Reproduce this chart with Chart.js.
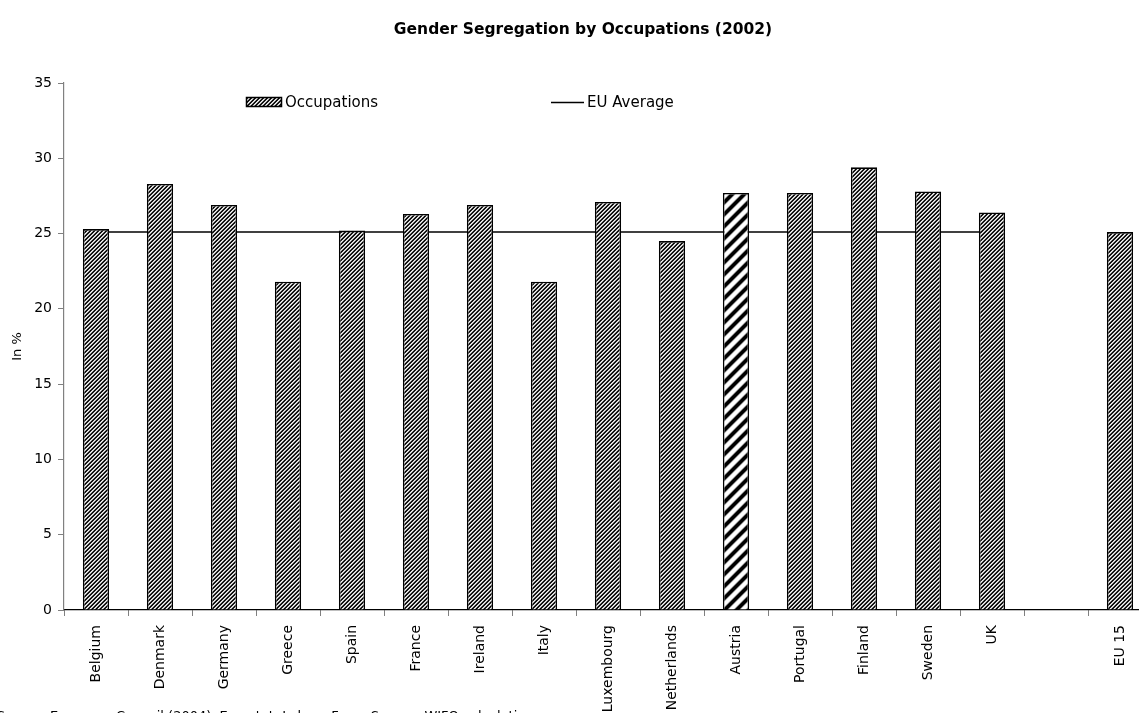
<!DOCTYPE html>
<html>
<head>
<meta charset="utf-8">
<script src="https://cdn.jsdelivr.net/npm/chart.js@4.4.1/dist/chart.umd.min.js"></script>
<style>
  html, body { margin: 0; padding: 0; background: #fff; overflow: hidden; }
  #wrap { width: 1170px; height: 713px; }
</style>
</head>
<body>
<div id="wrap"><canvas id="grafico" width="1170" height="713"></canvas></div>
<script>
// --- DADOS ---
const paises = ['Belgium', 'Denmark', 'Germany', 'Greece', 'Spain', 'France', 'Ireland', 'Italy',
  'Luxembourg', 'Netherlands', 'Austria', 'Portugal', 'Finland', 'Sweden', 'UK', '', 'EU 15'];
const ocupacoes = [25.3, 28.3, 26.9, 21.8, 25.2, 26.3, 26.9, 21.8, 27.1, 24.5, 27.7, 27.7, 29.4, 27.8, 26.4, null, 25.1];
const mediaUE = [25.1, 25.1, 25.1, 25.1, 25.1, 25.1, 25.1, 25.1, 25.1, 25.1, 25.1, 25.1, 25.1, 25.1, 25.1, null, null];
const yTicks = [0, 5, 10, 15, 20, 25, 30, 35];

const titulo = 'Gender Segregation by Occupations (2002)';
const fonte = 'Source: European Council (2004), Eurostat, Labour Force Survey; WIFO calculations.';
const FONT = '"DejaVu Sans", sans-serif';

// --- PADRÕES (hachuras diagonais) ---
function criarPadrao(tons) {
  const n = tons.length;
  const c = document.createElement('canvas');
  c.width = n; c.height = n;
  const g = c.getContext('2d');
  const img = g.createImageData(n, n);
  for (let y = 0; y < n; y++) {
    for (let x = 0; x < n; x++) {
      const v = tons[(x + y) % n];
      const i = (y * n + x) * 4;
      img.data[i] = v; img.data[i + 1] = v; img.data[i + 2] = v; img.data[i + 3] = 255;
    }
  }
  g.putImageData(img, 0, 0);
  return g.createPattern(c, 'repeat');
}

const padraoFino = criarPadrao([0, 45, 245, 175]);
const padraoLargo = criarPadrao([0, 0, 0, 0, 90, 215, 255, 255, 255, 255, 215, 90]);
const coresBarras = paises.map(p => p === 'Austria' ? padraoLargo : padraoFino);

// legenda desenhada à mão (posições como no original)
const legendaPlugin = {
  id: 'legendaManual',
  afterDraw(chart) {
    const ctx = chart.ctx;
    const ds = chart.data.datasets;
    ctx.save();
    ctx.font = '15px ' + FONT;
    ctx.textBaseline = 'middle';
    // Occupations
    ctx.fillStyle = padraoFino;
    ctx.fillRect(246, 97, 35, 9);
    ctx.strokeStyle = '#000';
    ctx.lineWidth = 1.5;
    ctx.strokeRect(246.5, 97.5, 35, 9);
    ctx.fillStyle = '#000';
    ctx.fillText(ds[0].label, 285, 103);
    // EU Average
    ctx.beginPath();
    ctx.moveTo(551, 102.5);
    ctx.lineTo(584, 102.5);
    ctx.lineWidth = 1.5;
    ctx.stroke();
    ctx.fillText(ds[1].label, 587, 103);

    // fonte (cortada à esquerda e em baixo, como na imagem)
    ctx.font = '13px ' + FONT;
    ctx.textBaseline = 'alphabetic';
    const x0 = 50 - ctx.measureText('Source: ').width;
    ctx.fillText(fonte, x0, 720);
    ctx.restore();
  }
};

// --- GRÁFICO ---
const ctx = document.getElementById('grafico').getContext('2d');
new Chart(ctx, {
  type: 'bar',
  data: {
    labels: paises,
    datasets: [
      {
        label: 'Occupations',
        data: ocupacoes,
        backgroundColor: coresBarras,
        borderColor: '#000',
        borderWidth: 1.6,
        categoryPercentage: 1,
        barPercentage: 0.41,
        order: 1
      },
      {
        label: 'EU Average',
        type: 'line',
        data: mediaUE,
        borderColor: '#000',
        borderWidth: 1.5,
        pointRadius: 0,
        fill: false,
        spanGaps: false,
        order: 2
      }
    ]
  },
  options: {
    responsive: false,
    animation: false,
    layout: { padding: { left: 14, right: 18, top: 0, bottom: 0 } },
    plugins: {
      legend: { display: false },
      tooltip: { enabled: false },
      title: {
        display: true,
        text: titulo,
        color: '#000',
        font: { family: FONT, size: 15.5, weight: 'bold', lineHeight: 1.2 },
        padding: { top: 21, bottom: 43.4 }
      }
    },
    scales: {
      x: {
        offset: true,
        grid: {
          offset: true,
          drawOnChartArea: false,
          drawTicks: true,
          tickLength: 6,
          color: '#808080'
        },
        border: { color: '#000', width: 1.2 },
        ticks: {
          autoSkip: false,
          maxRotation: 90,
          minRotation: 90,
          padding: 9,
          color: '#000',
          font: { family: FONT, size: 14 }
        },
        afterFit(scale) { scale.height = 103; }
      },
      y: {
        min: 0,
        max: 35,
        afterBuildTicks(scale) { scale.ticks = yTicks.map(v => ({ value: v })); },
        grid: {
          drawOnChartArea: false,
          drawTicks: true,
          tickLength: 6,
          color: '#808080'
        },
        border: { color: '#808080', width: 1.2 },
        ticks: {
          padding: 6,
          color: '#000',
          font: { family: FONT, size: 14 }
        },
        title: {
          display: true,
          text: 'In %',
          color: '#000',
          font: { family: FONT, size: 13 },
          padding: { top: -4, bottom: 0 }
        },
        afterFit(scale) { scale.width = 50; }
      }
    }
  },
  plugins: [legendaPlugin]
});
</script>
</body>
</html>
